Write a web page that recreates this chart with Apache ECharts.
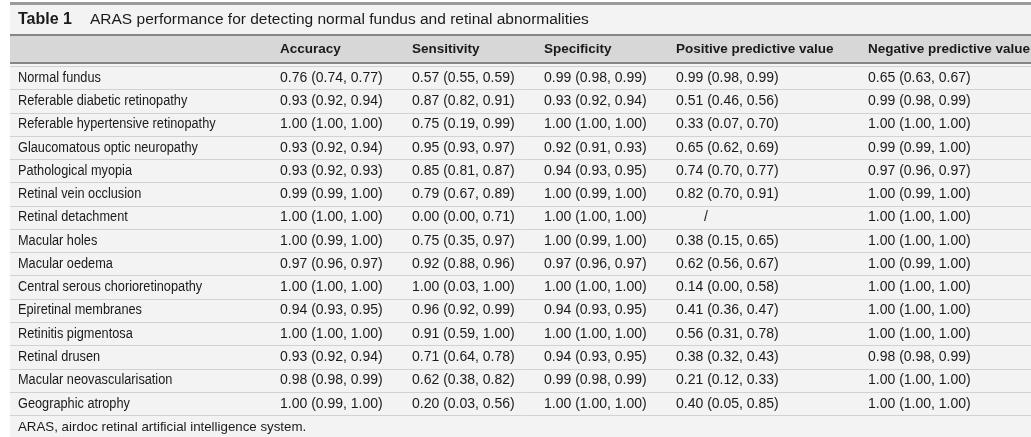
<!DOCTYPE html>
<html><head><meta charset="utf-8">
<script src="https://cdn.jsdelivr.net/npm/echarts@6/dist/echarts.min.js"></script>
<style>html,body{margin:0;padding:0;background:#fff}#c{width:1031px;height:437px}</style>
</head><body><div id="c"></div>
<script>
const titleBold = "Table 1";
const titleText = "ARAS performance for detecting normal fundus and retinal abnormalities";
const footnote = "ARAS, airdoc retinal artificial intelligence system.";
const headers = ["", "Accuracy", "Sensitivity", "Specificity", "Positive predictive value", "Negative predictive value"];
const rows = ["Normal fundus","Referable diabetic retinopathy","Referable hypertensive retinopathy","Glaucomatous optic neuropathy","Pathological myopia","Retinal vein occlusion","Retinal detachment","Macular holes","Macular oedema","Central serous chorioretinopathy","Epiretinal membranes","Retinitis pigmentosa","Retinal drusen","Macular neovascularisation","Geographic atrophy"];
const accuracy = ["0.76 (0.74, 0.77)","0.93 (0.92, 0.94)","1.00 (1.00, 1.00)","0.93 (0.92, 0.94)","0.93 (0.92, 0.93)","0.99 (0.99, 1.00)","1.00 (1.00, 1.00)","1.00 (0.99, 1.00)","0.97 (0.96, 0.97)","1.00 (1.00, 1.00)","0.94 (0.93, 0.95)","1.00 (1.00, 1.00)","0.93 (0.92, 0.94)","0.98 (0.98, 0.99)","1.00 (0.99, 1.00)"];
const sensitivity = ["0.57 (0.55, 0.59)","0.87 (0.82, 0.91)","0.75 (0.19, 0.99)","0.95 (0.93, 0.97)","0.85 (0.81, 0.87)","0.79 (0.67, 0.89)","0.00 (0.00, 0.71)","0.75 (0.35, 0.97)","0.92 (0.88, 0.96)","1.00 (0.03, 1.00)","0.96 (0.92, 0.99)","0.91 (0.59, 1.00)","0.71 (0.64, 0.78)","0.62 (0.38, 0.82)","0.20 (0.03, 0.56)"];
const specificity = ["0.99 (0.98, 0.99)","0.93 (0.92, 0.94)","1.00 (1.00, 1.00)","0.92 (0.91, 0.93)","0.94 (0.93, 0.95)","1.00 (0.99, 1.00)","1.00 (1.00, 1.00)","1.00 (0.99, 1.00)","0.97 (0.96, 0.97)","1.00 (1.00, 1.00)","0.94 (0.93, 0.95)","1.00 (1.00, 1.00)","0.94 (0.93, 0.95)","0.99 (0.98, 0.99)","1.00 (1.00, 1.00)"];
const ppv = ["0.99 (0.98, 0.99)","0.51 (0.46, 0.56)","0.33 (0.07, 0.70)","0.65 (0.62, 0.69)","0.74 (0.70, 0.77)","0.82 (0.70, 0.91)","/","0.38 (0.15, 0.65)","0.62 (0.56, 0.67)","0.14 (0.00, 0.58)","0.41 (0.36, 0.47)","0.56 (0.31, 0.78)","0.38 (0.32, 0.43)","0.21 (0.12, 0.33)","0.40 (0.05, 0.85)"];
const npv = ["0.65 (0.63, 0.67)","0.99 (0.98, 0.99)","1.00 (1.00, 1.00)","0.99 (0.99, 1.00)","0.97 (0.96, 0.97)","1.00 (0.99, 1.00)","1.00 (1.00, 1.00)","1.00 (1.00, 1.00)","1.00 (0.99, 1.00)","1.00 (1.00, 1.00)","1.00 (1.00, 1.00)","1.00 (1.00, 1.00)","0.98 (0.98, 0.99)","1.00 (1.00, 1.00)","1.00 (1.00, 1.00)"];

// layout (pixels)
const colStart = [18, 280, 412, 544, 676, 868];
const slashOffset = 28; // "/" placeholder sits inside the column
const FONT = "'Liberation Sans', Arial, sans-serif";

const columns = [rows, accuracy, sensitivity, specificity, ppv, npv];
const cells = [];
columns.forEach((col, ci) => col.forEach((txt, ri) => cells.push([ci, ri, txt])));

const chart = echarts.init(document.getElementById('c'), null, {renderer: 'canvas'});
chart.setOption({
  backgroundColor: '#ffffff',
  animation: false,
  grid: {left: 10, right: 0, top: 66.2, bottom: 21.6},
  xAxis: {type: 'value', min: 10, max: 1031, show: false},
  yAxis: {
    type: 'category', data: rows, inverse: true, boundaryGap: true,
    axisLine: {show: false}, axisTick: {show: false}, axisLabel: {show: false},
    splitLine: {show: true, lineStyle: {color: '#d2d2d2', width: 1}}
  },
  graphic: [
    {type: 'rect', z: -10, shape: {x: 10, y: 4, width: 1021, height: 433}, style: {fill: '#f3f3f3'}},
    {type: 'rect', z: 1, shape: {x: 10, y: 2, width: 1021, height: 3}, style: {fill: '#9a9a9a'}},
    {type: 'rect', z: -5, shape: {x: 10, y: 35, width: 1021, height: 28}, style: {fill: '#d7d7d7'}},
    {type: 'rect', z: 1, shape: {x: 10, y: 34, width: 1021, height: 2}, style: {fill: '#858585'}},
    {type: 'rect', z: 10, shape: {x: 10, y: 62, width: 1021, height: 2}, style: {fill: '#858585'}},
    {type: 'text', z: 10, left: 18, top: 12, style: {text: titleBold, font: "bold 16px " + FONT, fill: '#1a1a1a'}},
    {type: 'text', z: 10, left: 90, top: 12, style: {text: titleText, font: "15.5px " + FONT, fill: '#1a1a1a'}},
    ...headers.map((h, i) => ({type: 'text', z: 10, left: colStart[i], top: 42, style: {text: h, font: "bold 13.5px " + FONT, fill: '#1a1a1a'}})),
    {type: 'text', z: 10, left: 18, top: 421, style: {text: footnote, font: "13.3px " + FONT, fill: '#1a1a1a'}}
  ],
  series: [{
    type: 'custom',
    coordinateSystem: 'cartesian2d',
    encode: {x: 0, y: 1},
    data: cells,
    renderItem: function (params, api) {
      const ci = api.value(0), ri = api.value(1);
      const txt = cells[params.dataIndex][2];
      const p = api.coord([colStart[ci] + (txt === '/' ? slashOffset : 0), ri]);
      return {
        type: 'text',
        x: p[0], y: p[1],
        scaleX: ci === 0 ? 0.91 : 1,
        style: {text: txt, font: "14px " + FONT, fill: '#1a1a1a', textAlign: 'left', textVerticalAlign: 'middle'}
      };
    }
  }]
});
</script></body></html>
